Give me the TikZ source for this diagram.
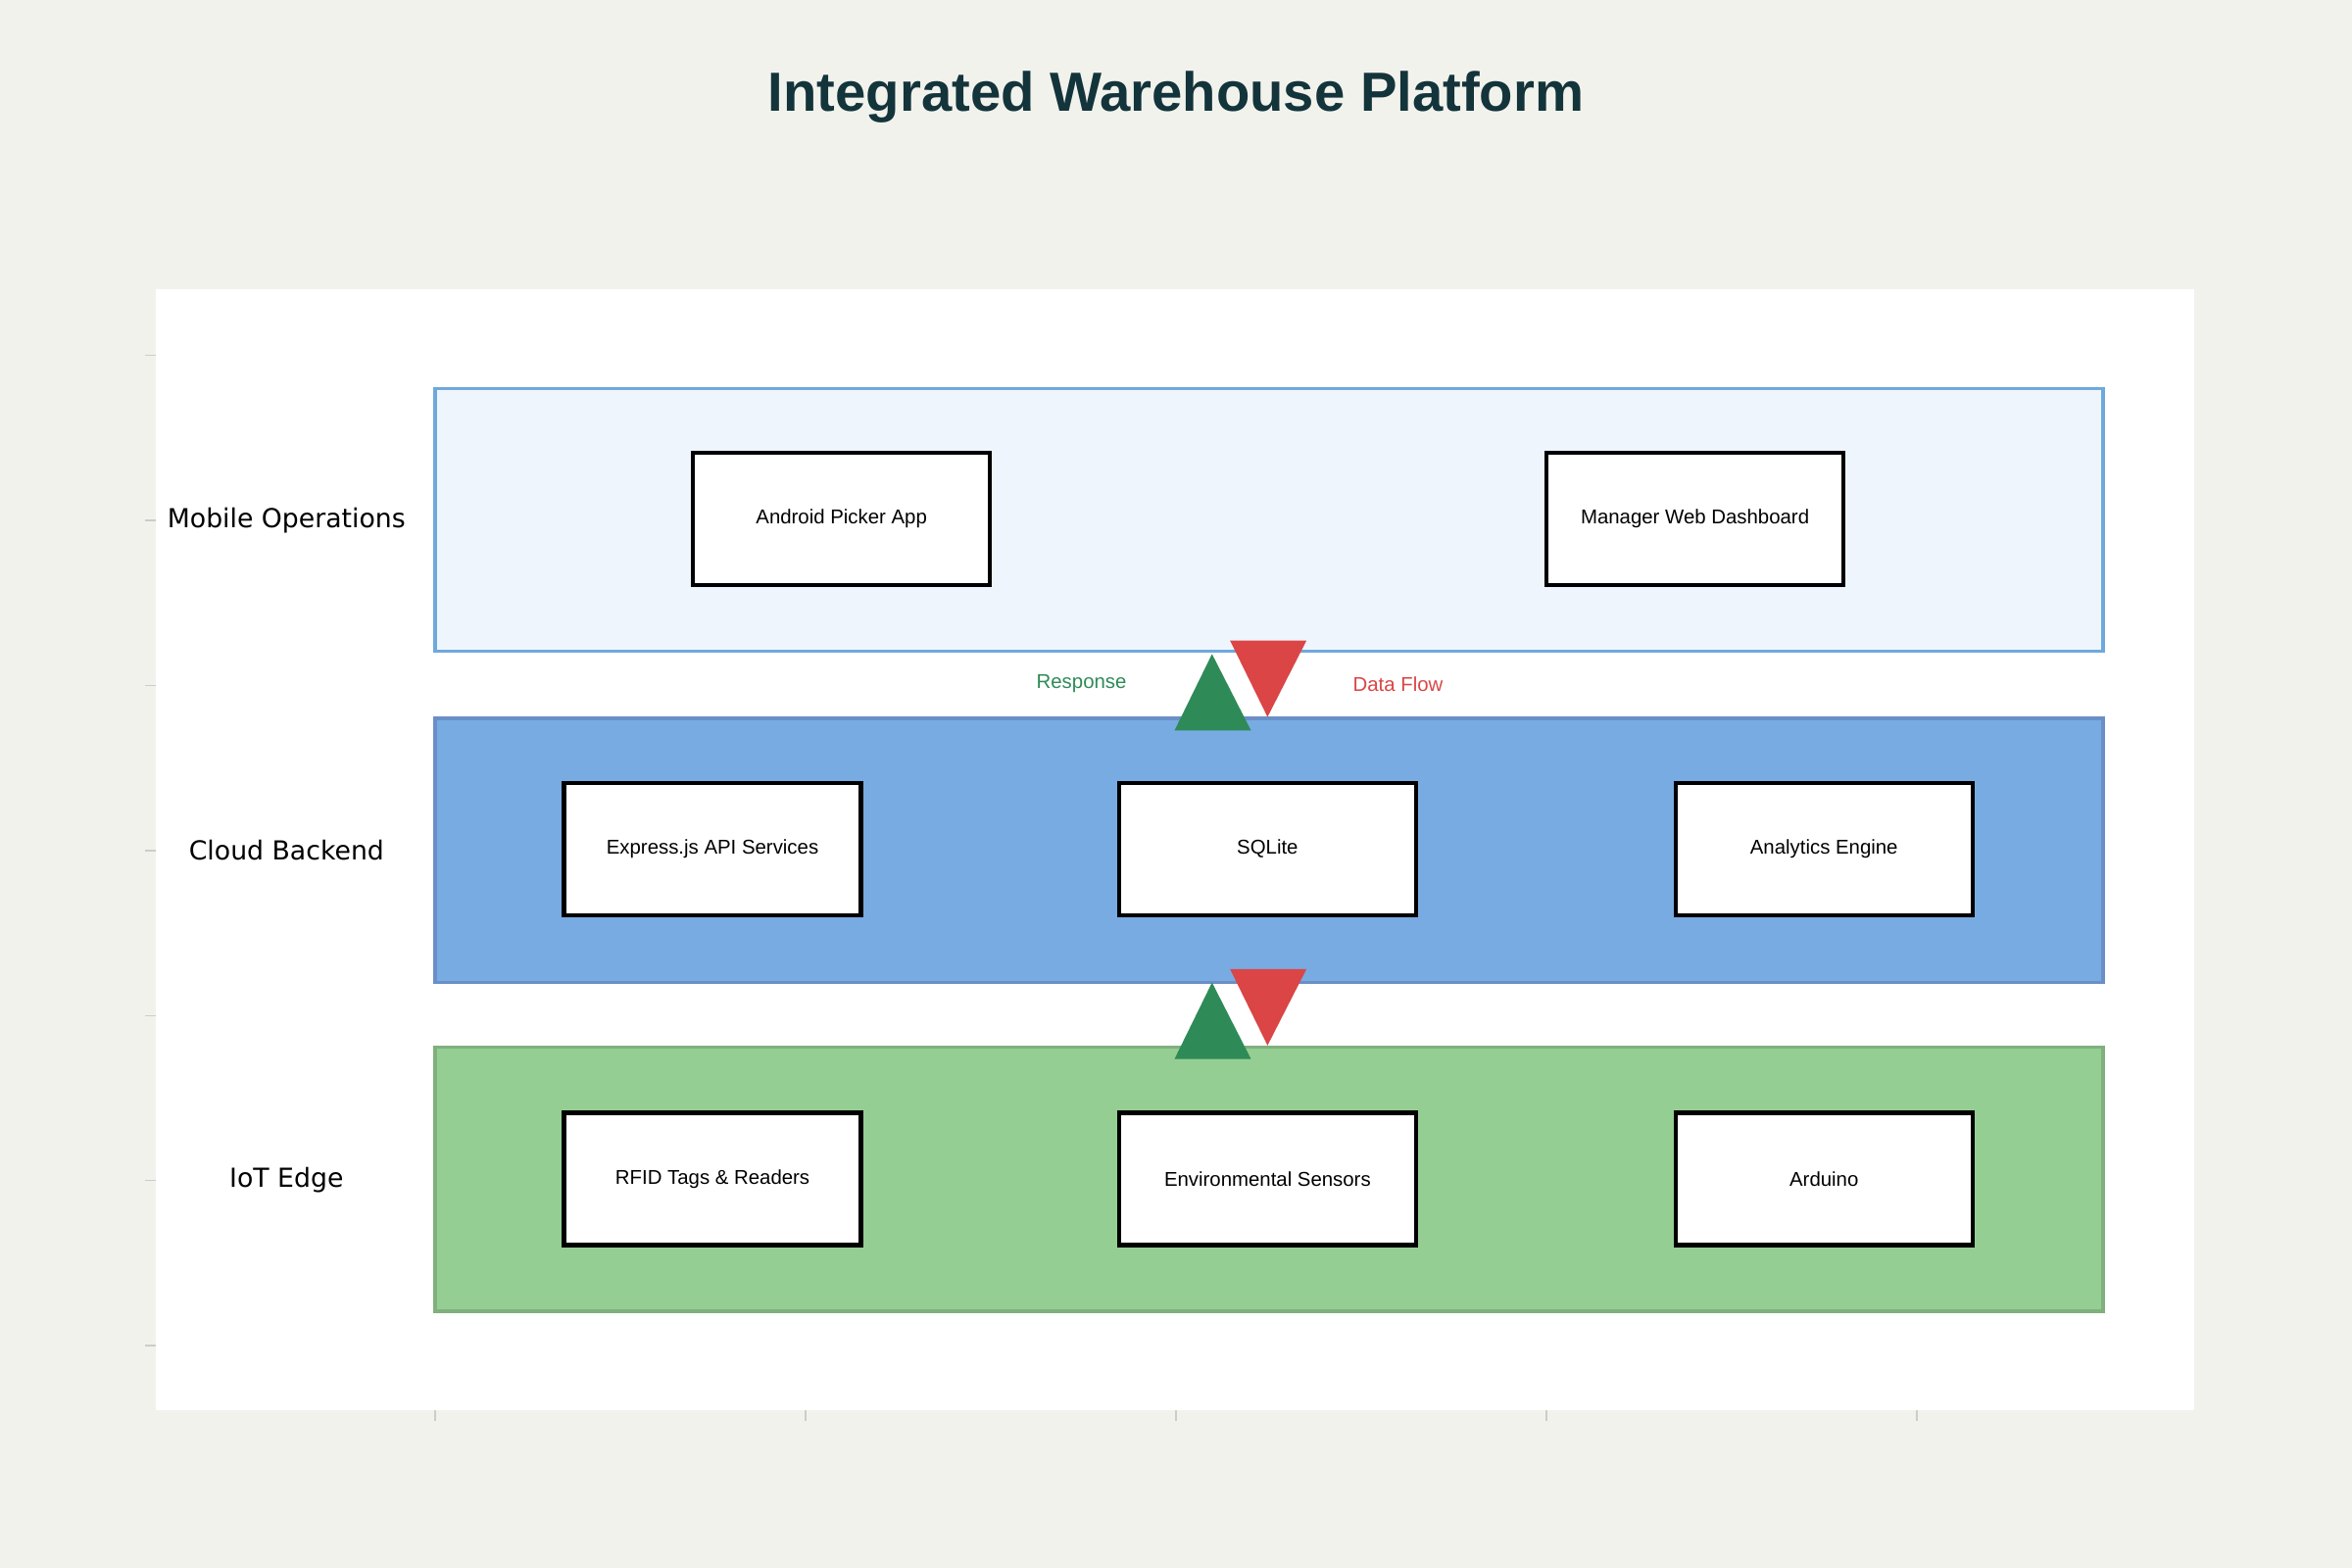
\documentclass[tikz,border=0pt]{standalone}
\usepackage{fontspec}
\setmainfont{Liberation Sans}
\newfontfamily\rowfont{DejaVu Sans}
\definecolor{bgc}{HTML}{F2F2EC}
\definecolor{titc}{HTML}{13343B}
\definecolor{mobf}{HTML}{EEF5FC}
\definecolor{mobd}{HTML}{6FA8DC}
\definecolor{clof}{HTML}{78ABE2}
\definecolor{clod}{HTML}{6A8FC7}
\definecolor{iotf}{HTML}{95CE93}
\definecolor{iotd}{HTML}{7FB07D}
\definecolor{upc}{HTML}{2E8B57}
\definecolor{dnc}{HTML}{DB4545}
\begin{document}
\begin{tikzpicture}[x=0.0153cm,y=-0.0153cm,
        bsty/.style={
            draw,line width=1.2pt,fill=white,
            minimum width=3.03cm,minimum height=1.35cm,
            font=\fontsize{5.8}{7}\selectfont,
        },
        rsty/.style={font=\rowfont\fontsize{7.6}{9}\selectfont},
        tsty/.style={draw=gray!40,line width=0.4pt},
    ]
    \fill[bgc] (0,0) rectangle (1568,1045);
    \useasboundingbox (0,0) rectangle (1568,1045);
    \fill[white] (104,193) rectangle (1463,940);
    \node[font=\bfseries\fontsize{16}{19}\selectfont,text=titc] (title) at (784,65) {Integrated Warehouse Platform};

    \foreach \y in {237,347,457,567,677,787,897}{
        \draw[tsty] (97,\y) -- (104,\y);
    }
    \foreach \x in {290,537,784,1031,1278}{
        \draw[tsty] (\x,940) -- (\x,947);
    }

    % layers
    \draw[mobd,fill=mobf,line width=1pt] (290,259) rectangle (1402,434);
    \draw[clod,fill=clof,line width=1pt] (290,479) rectangle (1402,655);
    \draw[iotd,fill=iotf,line width=1pt] (290,698) rectangle (1402,874);
    \node[rsty] (lmob) at (191,347) {Mobile Operations};
    \node[rsty] (lclo) at (191,567) {Cloud Backend};
    \node[rsty] (liot) at (191,787) {IoT Edge};

    \node[bsty] (android) at (561,346) {Android Picker App};
    \node[bsty] (manager) at (1130,346) {Manager Web Dashboard};
    \foreach \n/\x/\t in {0/475/Express.js API Services,1/845/SQLite/ TimescaleDB,2/1216/Analytics Engine}{
        \node[bsty] (c\n) at (\x,566) {\t};
    }
    \foreach \n/\x/\t in {0/475/RFID Tags \& Readers,1/845/Environmental Sensors,2/1216/Arduino/NodeMCU Controllers}{
        \node[bsty] (i\n) at (\x,786) {\t};
    }

    % flow markers
    \foreach \oy in {0,219}{
        \fill[upc] (783,487+\oy) -- (808,436+\oy) -- (834,487+\oy) -- cycle;
        \fill[dnc] (820,427+\oy) -- (871,427+\oy) -- (845,478+\oy) -- cycle;
    }
    \node[text=upc,font=\fontsize{5.8}{7}\selectfont] (resp) at (721,456) {Response};
    \node[text=dnc,font=\fontsize{5.8}{7}\selectfont] (flow) at (932,456) {Data Flow};
\end{tikzpicture}
\end{document}
